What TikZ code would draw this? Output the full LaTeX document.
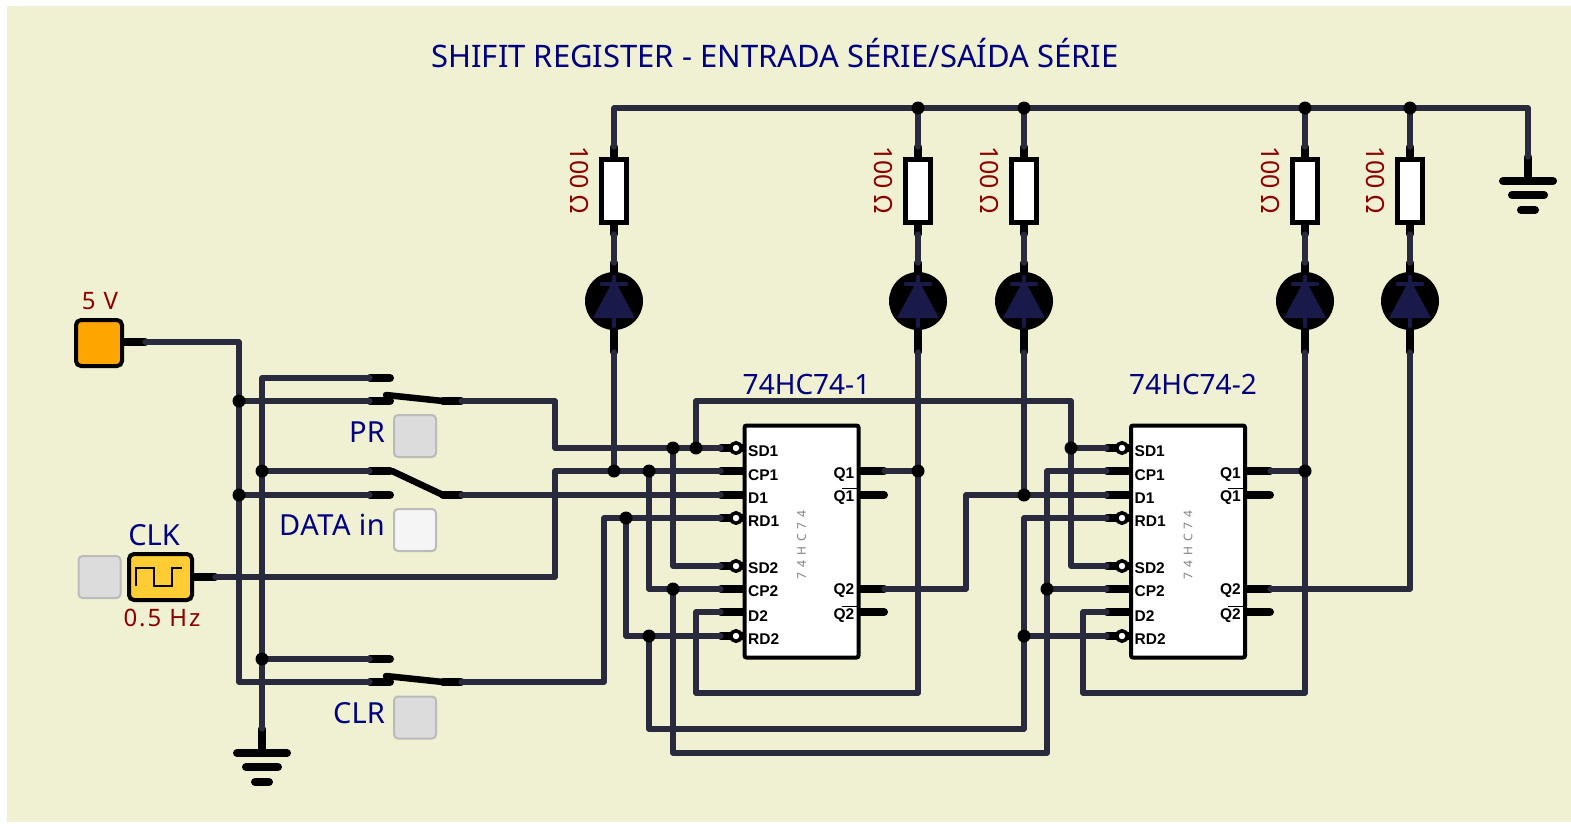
\documentclass[tikz,border=0pt]{standalone}
\usepackage{fontspec}
\setmainfont{Noto Sans}
\newfontfamily\pinf{Liberation Sans}
\definecolor{bgc}{HTML}{F0F0D2}
\definecolor{wirec}{HTML}{2A2A3E}
\definecolor{ledc}{HTML}{1A1A4A}
\definecolor{navyc}{HTML}{000080}
\definecolor{redc}{HTML}{8B0000}
\definecolor{btnc}{HTML}{DCDCDC}
\definecolor{btne}{HTML}{BBBBBB}
\definecolor{vccc}{HTML}{FFA500}
\definecolor{clkc}{HTML}{FFCC33}
\newcommand{\fs}[1]{\fontsize{#1}{#1}\selectfont}
\newcommand{\ls}[1]{\addfontfeature{LetterSpace=#1}}
\tikzset{
  wire/.style={line width=5.2pt,color=wirec,line cap=round,line join=round},
  pinl/.style={line width=8pt,color=black,line cap=round},
  lever/.style={line width=6.5pt,color=black,line cap=round},
  junction/.style={circle,fill=black,minimum size=13pt,inner sep=0pt},
  bubble/.style={circle,draw=black,fill=white,line width=3.5pt,minimum size=10.5pt,inner sep=0pt},
  chip/.style={draw=black,fill=white,line width=4pt,rounded corners=2pt,minimum width=114pt,minimum height=232pt,inner sep=0pt},
  resbox/.style={draw=black,fill=white,line width=4.5pt,minimum width=25pt,minimum height=63pt,inner sep=0pt},
  ledball/.style={circle,fill=black,minimum size=58pt,inner sep=0pt},
  button/.style={draw=btne,fill=btnc,line width=2pt,rounded corners=4pt,minimum size=42pt,inner sep=0pt},
  src/.style={draw=black,line width=4pt,rounded corners=5pt,inner sep=0pt},
  navylab/.style={text=navyc,inner sep=0pt},
  redlab/.style={text=redc,inner sep=0pt},
  pinlab/.style={text=black,inner sep=0pt,font=\pinf\fs{15.5}\bfseries},
}
\begin{document}
\begin{tikzpicture}[x=1pt,y=-1pt]
\useasboundingbox (0,0) rectangle (1571,823);
\fill[white] (0,0) rectangle (1571,823);
\fill[bgc] (7,6) rectangle (1571,822);
\node[navylab,font=\fs{31}] (title) at (775,53) {SHIFIT REGISTER - ENTRADA SÉRIE/SAÍDA SÉRIE};

% pin coordinates of the two chips
\foreach \n/\y in {SD1/448,CP1/471,D1/495,RD1/518,SD2/566,CP2/589,D2/612,RD2/636}{
  \coordinate (a\n) at (721,\y);
  \coordinate (b\n) at (1107,\y);
  \coordinate (ae\n) at (743,\y);
  \coordinate (be\n) at (1129,\y);
}
\foreach \n/\y in {Q1/471,Qn1/495,Q2/589,Qn2/612}{
  \coordinate (a\n) at (884,\y);
  \coordinate (b\n) at (1270,\y);
  \coordinate (ae\n) at (860,\y);
  \coordinate (be\n) at (1247,\y);
}
% component columns
\foreach \i/\x in {1/614,2/918,3/1024,4/1305,5/1410}{
  \coordinate (rt\i) at (\x,147);
  \coordinate (rb\i) at (\x,234);
  \coordinate (lt\i) at (\x,263);
  \coordinate (lb\i) at (\x,352);
  \coordinate (rail\i) at (\x,108);
}
% switch contacts and free points
\coordinate (src5) at (145,342);
\coordinate (srcE) at (124,342);
\coordinate (clkP) at (215,577);
\coordinate (clkE) at (194,577);
\coordinate (gL) at (262,729);
\coordinate (gR) at (1528,157);
\coordinate (railEnd) at (1528,108);
\coordinate (prA) at (370,378);
\coordinate (prB) at (370,401);
\coordinate (prO) at (461,401);
\coordinate (daA) at (370,471);
\coordinate (daB) at (370,495);
\coordinate (daO) at (461,495);
\coordinate (crA) at (370,659);
\coordinate (crB) at (370,682);
\coordinate (crO) at (461,682);

% thick pins
\foreach \n in {SD1,CP1,D1,RD1,SD2,CP2,D2,RD2,Q1,Qn1,Q2,Qn2}{
  \draw[pinl] (a\n) -- (ae\n);
  \draw[pinl] (b\n) -- (be\n);
}
\foreach \i in {1,...,5}{
  \draw[pinl] (rt\i) -- (rb\i);
  \draw[pinl] (lt\i) -- (lb\i);
}
\draw[pinl] (src5) -- (srcE);
\draw[pinl] (clkP) -- (clkE);
% grounds
\foreach \g/\x/\y in {gL/262/729,gR/1528/157}{
  \draw[pinl] (\g) -- ++(0,24);
  \draw[pinl] (\x-25,\y+24) -- (\x+25,\y+24);
  \draw[pinl] (\x-16,\y+38) -- (\x+16,\y+38);
  \draw[pinl] (\x-7,\y+53) -- (\x+7,\y+53);
}
% switches
\foreach \s in {pr,da,cr}{
  \draw[pinl] (\s A) -- ++(20,0);
  \draw[pinl] (\s B) -- ++(20,0);
  \draw[pinl] (\s O) -- ++(-18,0);
}
\draw[lever] (386,395) -- (443,401);
\draw[lever] (392,471) -- (443,495);
\draw[lever] (386,676) -- (443,682);

% junction coordinates
\coordinate (j5a) at (239,401);
\coordinate (j5b) at (239,495);
\coordinate (jGa) at (262,471);
\coordinate (jGb) at (262,659);
\coordinate (jSa) at (673,448);
\coordinate (jSb) at (696,448);
\coordinate (jL1) at (614,471);
\coordinate (jC) at (649,471);
\coordinate (jC2) at (673,589);
\coordinate (jR) at (626,518);
\coordinate (jR2) at (649,636);
\coordinate (jQ1) at (918,471);
\coordinate (jD) at (1024,495);
\coordinate (jB1) at (1071,448);
\coordinate (jB2) at (1047,589);
\coordinate (jB3) at (1024,636);
\coordinate (jQ3) at (1305,471);
% bend coordinates
\coordinate (b5) at (239,342);
\coordinate (b5d) at (239,682);
\coordinate (bG) at (262,378);
\coordinate (w1a) at (555,401);
\coordinate (w1b) at (555,448);
\coordinate (w2a) at (555,577);
\coordinate (w2b) at (555,471);
\coordinate (w3a) at (604,682);
\coordinate (w3b) at (604,518);
\coordinate (w4a) at (696,401);
\coordinate (w4b) at (1071,401);
\coordinate (w4c) at (1071,566);
\coordinate (w5) at (673,566);
\coordinate (w6) at (649,589);
\coordinate (w7a) at (673,753);
\coordinate (w7b) at (1047,753);
\coordinate (w7c) at (1047,471);
\coordinate (w8) at (626,636);
\coordinate (w9a) at (649,729);
\coordinate (w9b) at (1024,729);
\coordinate (w9c) at (1024,518);
\coordinate (w10a) at (696,612);
\coordinate (w10b) at (696,693);
\coordinate (w10c) at (918,693);
\coordinate (w11a) at (966,589);
\coordinate (w11b) at (966,495);
\coordinate (w12a) at (1305,693);
\coordinate (w12b) at (1083,693);
\coordinate (w12c) at (1083,612);
\coordinate (w13) at (1410,589);

% wires
\draw[wire] (rail1) -- (railEnd) -- (gR);
\foreach \i in {1,...,5}{
  \draw[wire] (rail\i) -- (rt\i);
  \draw[wire] (rb\i) -- (lt\i);
}
\draw[wire] (src5) -- (b5) -- (b5d) -- (crB);
\draw[wire] (prA) -- (bG) -- (gL);
\draw[wire] (j5a) -- (prB);
\draw[wire] (jGa) -- (daA);
\draw[wire] (j5b) -- (daB);
\draw[wire] (jGb) -- (crA);
\draw[wire] (prO) -- (w1a) -- (w1b) -- (aSD1);
\draw[wire] (clkP) -- (w2a) -- (w2b) -- (aCP1);
\draw[wire] (daO) -- (aD1);
\draw[wire] (crO) -- (w3a) -- (w3b) -- (aRD1);
\draw[wire] (lb1) -- (jL1);
\draw[wire] (jSb) -- (w4a) -- (w4b) -- (w4c) -- (bSD2);
\draw[wire] (jB1) -- (bSD1);
\draw[wire] (jSa) -- (w5) -- (aSD2);
\draw[wire] (jC) -- (w6) -- (aCP2);
\draw[wire] (jC2) -- (w7a) -- (w7b) -- (w7c) -- (bCP1);
\draw[wire] (jB2) -- (bCP2);
\draw[wire] (jR) -- (w8) -- (aRD2);
\draw[wire] (jR2) -- (w9a) -- (w9b) -- (w9c) -- (bRD1);
\draw[wire] (jB3) -- (bRD2);
\draw[wire] (aD2) -- (w10a) -- (w10b) -- (w10c) -- (lb2);
\draw[wire] (aQ1) -- (jQ1);
\draw[wire] (aQ2) -- (w11a) -- (w11b) -- (bD1);
\draw[wire] (lb3) -- (jD);
\draw[wire] (bQ1) -- (jQ3);
\draw[wire] (lb4) -- (w12a) -- (w12b) -- (w12c) -- (bD2);
\draw[wire] (bQ2) -- (w13) -- (lb5);

% junction dots
\foreach \c in {j5a,j5b,jGa,jGb,jSa,jSb,jL1,jC,jC2,jR,jR2,jQ1,jD,jB1,jB2,jB3,jQ3,rail2,rail3,rail4,rail5}{
  \node[junction] (dot\c) at (\c) {};
}

% resistors and LEDs
\foreach \i/\x in {1/614,2/918,3/1024,4/1305,5/1410}{
  \node[resbox] (res\i) at (\x,191) {};
  \node[redlab,font=\fs{25},rotate=-90] (rl\i) at (\x-35,180) {100 Ω};
  \node[ledball] (led\i) at (\x,301) {};
  \fill[ledc] (\x,279) -- (\x+21,318) -- (\x-21,318) -- cycle;
  \draw[ledc,line width=4.5pt,line cap=round] (\x-12,284) -- (\x+12,284);
  \draw[ledc,line width=4.5pt,line cap=round] (\x,277) -- (\x,326);
}

% bubbles, then chips over them
\foreach \n in {SD1,RD1,SD2,RD2}{
  \node[bubble] (abub\n) at ([xshift=-7pt]ae\n) {};
  \node[bubble] (bbub\n) at ([xshift=-7pt]be\n) {};
}
\foreach \c/\x/\lab in {a/801.5/74HC74-1,b/1188/74HC74-2}{
  \node[chip] (chip\c) at (\x,541.5) {};
  \node[navylab,font=\fs{28}] (name\c) at (\x+5,384) {\lab};
  \node[text=gray,inner sep=0pt,font=\fs{12}\ls{43},rotate=90] (part\c) at (\x,545) {74HC74};
  \foreach \n/\y/\t in {SD1/451/SD1,CP1/475/CP1,D1/498/D1,RD1/521/RD1,SD2/568/SD2,CP2/591/CP2,D2/616/D2,RD2/639/RD2}{
    \node[pinlab,anchor=west] (\c lab\n) at (\x-53.5,\y) {\t};
  }
  \foreach \n/\y/\t in {Q1/475/Q1,Qn1/498/Q1,Q2/591/Q2,Qn2/616/Q2}{
    \node[pinlab,anchor=east] (\c lab\n) at (\x+53,\y) {\t};
  }
  \draw[black,line width=1pt] (\x+40,488) -- (\x+56,488);
  \draw[black,line width=1pt] (\x+40,606) -- (\x+56,606);
}

% sources
\node[src,fill=vccc,minimum width=46pt,minimum height=46pt] (vcc) at (99,343) {};
\node[redlab,font=\fs{24}\ls{7}] (vlab) at (100,301) {5 V};
\node[src,fill=clkc,minimum width=63pt,minimum height=46pt] (clk) at (160.5,577) {};
\draw[black,line width=2.5pt] (136,586) -- (136,568) -- (154,568) -- (154,586) -- (172,586) -- (172,568) -- (182,568);
\node[navylab,font=\fs{29}] (clklab) at (154,535) {CLK};
\node[redlab,font=\fs{24}\ls{8}] (hzlab) at (162,618) {0.5 Hz};

% buttons and labels
\node[button] (btnClk) at (99.5,577) {};
\node[button] (btnPr) at (415,436) {};
\node[button,fill=white!96!black] (btnDa) at (415,530) {};
\node[button] (btnCl) at (415,717.5) {};
\node[navylab,font=\fs{29},anchor=east] (prlab) at (385,432) {PR};
\node[navylab,font=\fs{29}\ls{2},anchor=east] (dalab) at (385,525) {DATA in};
\node[navylab,font=\fs{29},anchor=east] (cllab) at (385,713) {CLR};
\end{tikzpicture}
\end{document}
